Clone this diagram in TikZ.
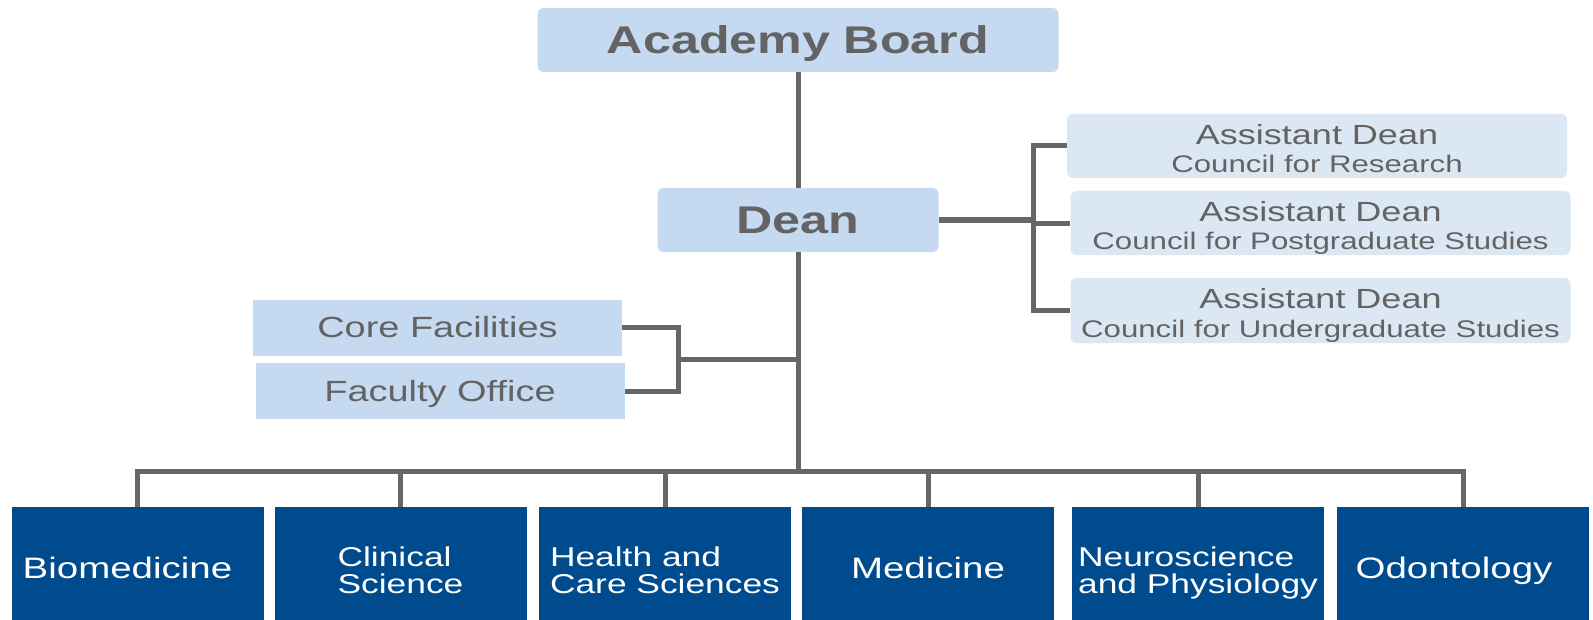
\documentclass[tikz,border=0pt]{standalone}
\usepackage{fontspec}
\setmainfont{Liberation Sans}
\newfontfamily\wsans[FakeStretch=1.3]{Liberation Sans}
\usetikzlibrary{calc}
\definecolor{lightbox}{HTML}{C5D9F1}
\definecolor{paleblue}{HTML}{DCE7F4}
\definecolor{navy}{HTML}{004B8D}
\definecolor{txtgrey}{HTML}{636363}
\definecolor{linegrey}{HTML}{676767}
\begin{document}
\begin{tikzpicture}[x=0.5pt,y=-0.5pt,
  conn/.style={draw=linegrey,line width=2.5pt,line join=miter},
  topbox/.style={fill=lightbox,rounded corners=3pt,inner sep=0pt,text=txtgrey,
    minimum height=32pt,text height=13.8pt,text depth=0pt,
    font=\wsans\bfseries\fontsize{19.3}{23}\selectfont},
  asstbox/.style={fill=paleblue,rounded corners=3pt,inner sep=0pt,text=txtgrey,
    minimum width=250pt,align=center,text height=26.7pt,text depth=0pt,
    font=\wsans\fontsize{12}{14.2}\selectfont},
  sidebox/.style={fill=lightbox,inner sep=0pt,text=txtgrey,minimum width=184.5pt,
    minimum height=28pt,text height=10.45pt,text depth=0pt,
    font=\wsans\fontsize{14.6}{17}\selectfont},
  deptbox/.style={fill=navy,inner sep=0pt,text=white,minimum width=126pt,
    minimum height=56.5pt,text height=14.6pt,text depth=0pt,
    font=\wsans\fontsize{14.8}{17}\selectfont},
  deptbox2/.style={deptbox,align=left,text height=29.5pt,text depth=0pt,
    font=\wsans\fontsize{13.6}{13.3}\selectfont}
]
\useasboundingbox (0,0) rectangle (1593,620);
\fill[white] (0,0) rectangle (1593,620);

% top
\node[topbox,minimum width=260.5pt] (acad) at (798,40) {Academy Board};
\node[topbox,minimum width=140.5pt] (dean) at (798,220) {Dean};

% assistant deans
\node[asstbox,minimum height=32pt] (a1) at (1317,146)
  {{\fontsize{13.85}{14.2}\selectfont Assistant Dean}\\Council for Research};
\node[asstbox,minimum height=32pt] (a2) at (1320.5,223)
  {{\fontsize{13.85}{14.2}\selectfont Assistant Dean}\\Council for Postgraduate Studies};
\node[asstbox,minimum height=32.5pt] (a3) at (1320.5,310.5)
  {{\fontsize{13.85}{14.2}\selectfont Assistant Dean}\\Council for Undergraduate Studies};

% side boxes
\node[sidebox] (core) at (437.5,327.5) {Core Facilities};
\node[sidebox] (fac) at (440,391) {Faculty Office};

% departments
\node[deptbox]  (bio) at (137.5,563.5) {Biomedicine\hspace*{10pt}};
\node[deptbox2] (cli) at (400.5,563.5) {Clinical\\Science};
\node[deptbox2] (hea) at (665,563.5) {Health and\\Care Sciences};
\node[deptbox]  (med) at (928,563.5) {Medicine};
\node[deptbox2] (neu) at (1198,563.5) {Neuroscience\\and Physiology};
\node[deptbox]  (odo) at (1463,563.5) {Odontology\hspace*{9pt}};

% helper coordinates
\coordinate (bx) at (1033,0);
\coordinate (lx) at (678,0);
\coordinate (bus) at (0,471);

% connectors
\draw[conn] (acad.south) -- (dean.north);
\draw[conn] (dean.east) -- (dean.east -| bx);
\draw[conn] (a1.west) -| (bx |- a3.west) -- (a3.west);
\draw[conn] (a2.west) -- (a2.west -| bx);

\draw[conn] (core.east) -| (lx |- fac.east) -- (fac.east);
\coordinate (lm) at ($(core.east -| lx)!0.5!(fac.east -| lx)$);
\draw[conn] (lm) -- (lm -| dean.south);

\draw[conn] (dean.south) -- (dean.south |- bus);
\draw[conn] (bio.north) -- (bio.north |- bus) -- (odo.north |- bus) -- (odo.north);
\foreach \n in {cli,hea,med,neu} {
  \draw[conn] (\n.north) -- (\n.north |- bus);
}
\end{tikzpicture}
\end{document}
